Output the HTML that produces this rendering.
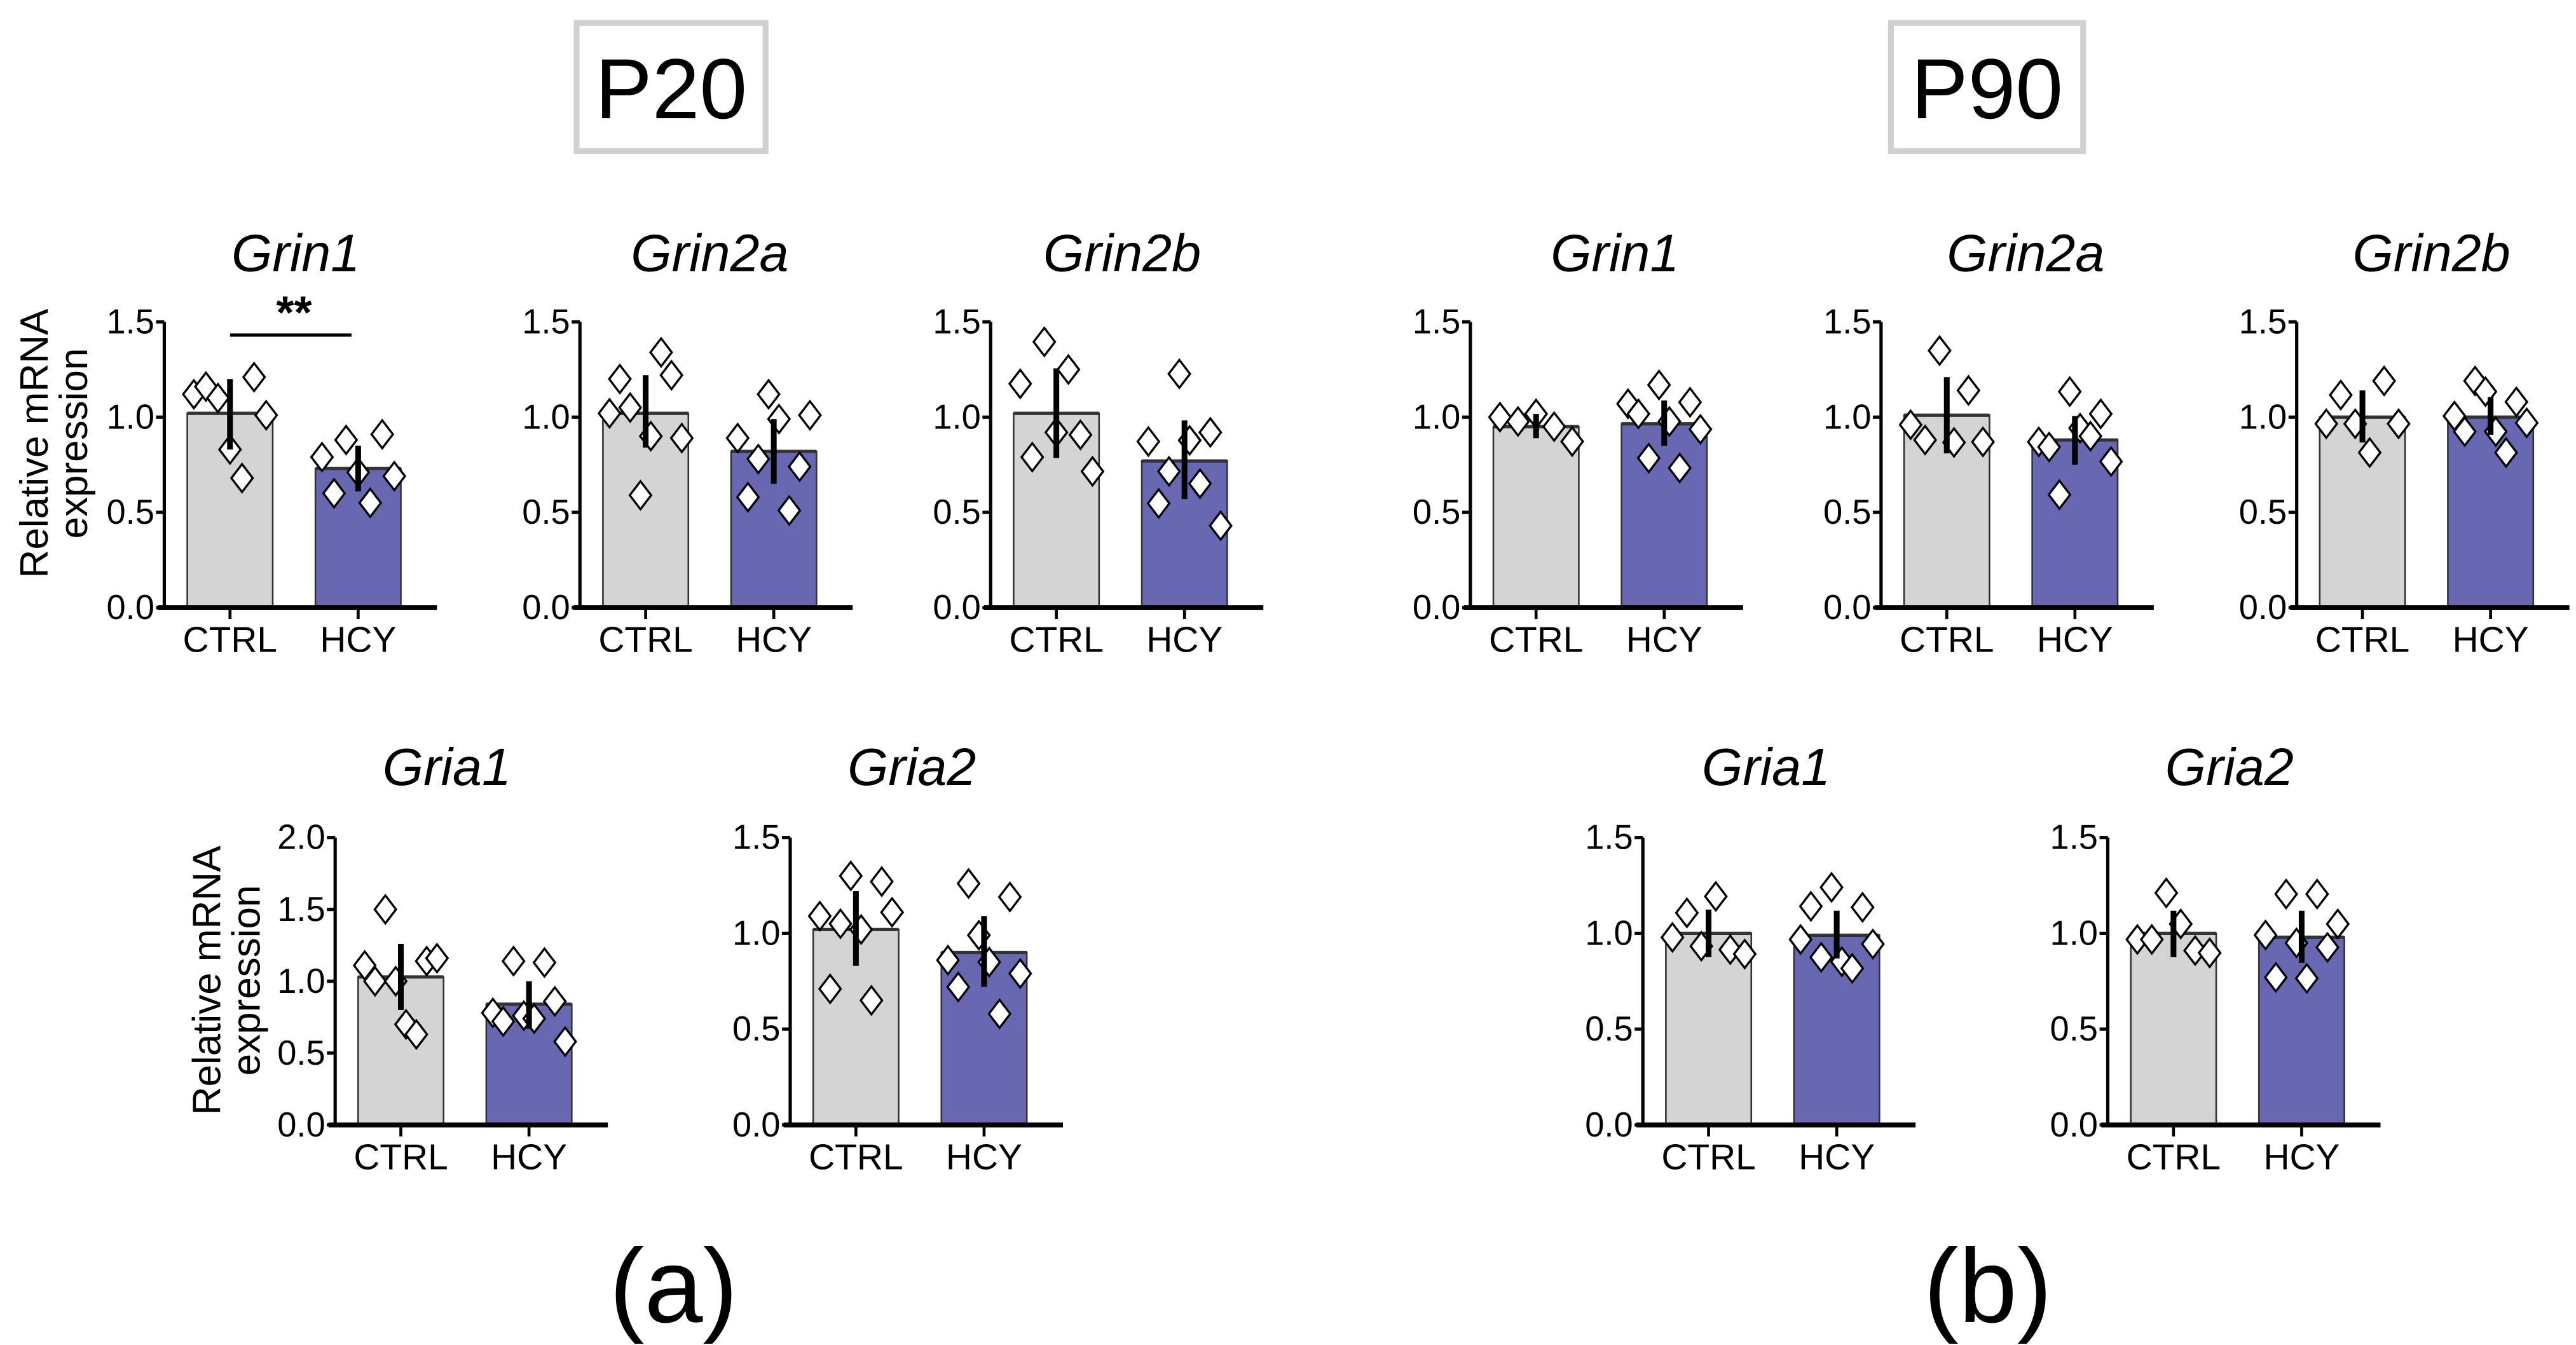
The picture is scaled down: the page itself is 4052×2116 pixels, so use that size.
<!DOCTYPE html>
<html><head><meta charset="utf-8"><style>
html,body{margin:0;padding:0;background:#fff;}
svg{display:block;}
text{font-family:"Liberation Sans",Arial,sans-serif;fill:#000;}
.nar{font-family:"Liberation Sans Narrow","Liberation Sans",Arial,sans-serif;}
</style></head><body>
<svg id="fig" width="4052" height="2116" viewBox="0 0 1568 819" preserveAspectRatio="none" xmlns="http://www.w3.org/2000/svg">
<rect x="0" y="0" width="1568" height="819" fill="#fff"/>
<rect x="351" y="14" width="115" height="78" fill="none" stroke="#d0d0d0" stroke-width="3.5"/>
<text x="408.5" y="72" font-size="52" text-anchor="middle">P20</text>
<rect x="1151" y="14" width="117" height="78" fill="none" stroke="#d0d0d0" stroke-width="3.5"/>
<text x="1209.5" y="72" font-size="52" text-anchor="middle">P90</text>
<text x="410" y="805" font-size="64" text-anchor="middle">(a)</text>
<text x="1210" y="805" font-size="64" text-anchor="middle">(b)</text>
<g transform="translate(29,270) rotate(-90)"><text font-size="24" text-anchor="middle">Relative mRNA</text><text y="24" font-size="24" text-anchor="middle">expression</text></g>
<g transform="translate(134,597) rotate(-90)"><text font-size="24" text-anchor="middle">Relative mRNA</text><text y="24" font-size="24" text-anchor="middle">expression</text></g>
<g id="charts"></g>
</svg>
<script>
const panelNames = ["p20-grin1","p20-grin2a","p20-grin2b","p90-grin1","p90-grin2a","p90-grin2b","p20-gria1","p20-gria2","p90-gria1","p90-gria2"];
const titles = ["Grin1","Grin2a","Grin2b","Grin1","Grin2a","Grin2b","Gria1","Gria2","Gria1","Gria2"];
const categories = ["CTRL","HCY"];
const yMaxes = [1.5,1.5,1.5,1.5,1.5,1.5,2.0,1.5,1.5,1.5];
const ctrlMeans = [1.02,1.02,1.02,0.95,1.01,1.0,1.03,1.02,1.0,1.0];
const hcyMeans = [0.73,0.82,0.77,0.965,0.88,1.0,0.84,0.9,0.99,0.98];
const ctrlErrLo = [0.83,0.84,0.785,0.89,0.81,0.867,0.8,0.83,0.875,0.875];
const ctrlErrHi = [1.2,1.22,1.256,1.017,1.21,1.14,1.26,1.22,1.124,1.118];
const hcyErrLo = [0.61,0.65,0.57,0.849,0.75,0.907,0.67,0.72,0.869,0.846];
const hcyErrHi = [0.85,0.99,0.983,1.087,1.006,1.105,1.0,1.09,1.118,1.118];
const ctrlPoints = [
 [1.12,1.16,1.1,0.83,0.68,1.21,1.01],
 [1.02,1.2,1.05,0.59,0.9,1.34,1.22,0.89],
 [1.175,0.79,1.395,0.92,1.25,0.907,0.715],
 [1.0,0.977,1.017,0.95,0.872],
 [0.96,0.88,1.349,0.867,1.14,0.87],
 [0.965,1.116,0.965,0.814,1.19,0.965],
 [1.11,1.0,1.5,1.0,0.7,0.63,1.14,1.16],
 [1.09,0.71,1.05,1.3,1.02,0.65,1.27,1.11],
 [0.979,1.107,0.933,1.193,0.915,0.892],
 [0.968,0.968,1.211,1.049,0.91,0.898]
];
const hcyPoints = [
 [0.79,0.6,0.88,0.71,0.55,0.91,0.69],
 [0.89,0.58,0.78,1.12,0.99,0.51,0.74,1.01],
 [0.872,0.547,0.715,1.227,0.878,0.651,0.92,0.43],
 [1.07,1.017,0.785,1.169,0.977,0.733,1.078,0.936],
 [0.87,0.843,0.593,1.134,0.942,0.9,1.017,0.767],
 [1.006,0.924,1.19,1.134,0.924,0.814,1.08,0.97],
 [0.78,0.72,1.14,0.76,0.74,1.13,0.86,0.58],
 [0.86,0.72,1.26,0.99,0.85,0.58,1.19,0.79],
 [0.968,1.141,0.875,1.24,0.852,0.817,1.136,0.944],
 [0.991,0.77,1.205,0.95,0.765,1.205,0.927,1.049]
];
const yTickLabelsA = ["0.0","0.5","1.0","1.5"];
const yTickLabelsB = ["0.0","0.5","1.0","1.5","2.0"];
const sigLabels = ["**","","","","","","","","",""];

const layout = [
 {ax:100,top:196,bot:370,tx:180,ty:165},
 {ax:353,top:196,bot:370,tx:432,ty:165},
 {ax:603,top:196,bot:370,tx:683,ty:165},
 {ax:895,top:196,bot:370,tx:983,ty:165},
 {ax:1145,top:196,bot:370,tx:1233,ty:165},
 {ax:1398,top:196,bot:370,tx:1480,ty:165},
 {ax:204,top:510,bot:685,tx:272,ty:478},
 {ax:481,top:510,bot:685,tx:555,ty:478},
 {ax:1000,top:510,bot:685,tx:1075,ty:478},
 {ax:1283,top:510,bot:685,tx:1357,ty:478}
];
const NS="http://www.w3.org/2000/svg";
const root=document.getElementById('charts');
function mk(tag,attrs,parent){const e=document.createElementNS(NS,tag);for(const k in attrs)e.setAttribute(k,attrs[k]);parent.appendChild(e);return e;}

panelNames.forEach((pn,i)=>{
  const L=layout[i];
  const g=mk('g',{},root);
  
  
  const ymax=yMaxes[i];
  const yS=v=>L.bot-(v/ymax)*(L.bot-L.top);
  const barW=52;
  const cx=[L.ax+40,L.ax+118];
  const t=mk('text',{x:L.tx,y:L.ty,'font-size':32,'font-style':'italic','text-anchor':'middle','class':'nar'},g);
  t.textContent=titles[i];
  
  
  const means=[ctrlMeans[i],hcyMeans[i]];
  const lo=[ctrlErrLo[i],hcyErrLo[i]];
  const hi=[ctrlErrHi[i],hcyErrHi[i]];
  const pts=[ctrlPoints[i],hcyPoints[i]];
  const fills=['#d4d4d4','#6867b1'];
  for(let c=0;c<2;c++){
    const b=mk('rect',{x:cx[c]-barW/2,y:yS(means[c]),width:barW,height:L.bot-yS(means[c]),fill:fills[c],stroke:'#333','stroke-width':1},g);
    
    
    mk('line',{x1:cx[c]-barW/2,x2:cx[c]+barW/2,y1:yS(means[c]),y2:yS(means[c]),stroke:'#333','stroke-width':2},g);
    const n=pts[c].length;
    pts[c].forEach((v,k)=>{
      const off=(k-(n-1)/2)*(44/Math.max(n-1,1));
      const px=cx[c]+off, py=yS(v);
      const d=mk('path',{d:`M${px} ${py-8.5}L${px+6.5} ${py}L${px} ${py+8.5}L${px-6.5} ${py}Z`,fill:'#fff',stroke:'#000','stroke-width':1.3},g);
      
      
    });
    const e=mk('line',{x1:cx[c],x2:cx[c],y1:yS(lo[c]),y2:yS(hi[c]),stroke:'#000','stroke-width':3.5},g);
    
    
    mk('line',{x1:cx[c],x2:cx[c],y1:L.bot,y2:L.bot+7,stroke:'#000','stroke-width':1.8},g);
    const xl=mk('text',{x:cx[c],y:L.bot+27,'font-size':22,'text-anchor':'middle','class':'nar'},g);
    xl.textContent=categories[c];
    
    
  }
  const ya=mk('line',{x1:L.ax,x2:L.ax,y1:L.top,y2:L.bot,stroke:'#000','stroke-width':2},g);
  
  
  const xa=mk('line',{x1:L.ax-4,x2:L.ax+166,y1:L.bot,y2:L.bot,stroke:'#000','stroke-width':3},g);
  
  
  const ticks= ymax>1.6?yTickLabelsB:yTickLabelsA;
  ticks.forEach(lbl=>{
    const v=parseFloat(lbl), y=yS(v);
    mk('line',{x1:L.ax-5,x2:L.ax,y1:y,y2:y,stroke:'#000','stroke-width':2},g);
    const tl=mk('text',{x:L.ax-6,y:y+7,'font-size':21,'text-anchor':'end','class':'nar'},g);
    tl.textContent=lbl;
    
    
  });
  if(sigLabels[i]){
    const s=mk('line',{x1:cx[0],x2:cx[1]-4,y1:204,y2:204,stroke:'#000','stroke-width':2},g);
    
    
    const st=mk('text',{x:(cx[0]+cx[1])/2,y:200,'font-size':28,'font-weight':'bold','text-anchor':'middle'},g);
    st.textContent=sigLabels[i];
    
    
  }
});
</script>
</body></html>
